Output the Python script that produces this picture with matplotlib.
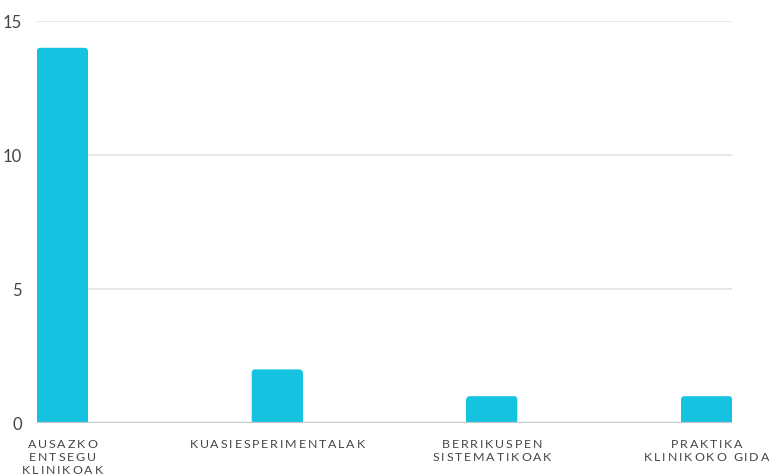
import matplotlib.pyplot as plt
from matplotlib.patches import FancyBboxPatch
from matplotlib.font_manager import FontProperties

# Datuak
kategoriak = [
    ["AUSAZKO", "ENTSEGU", "KLINIKOAK"],
    ["KUASIESPERIMENTALAK"],
    ["BERRIKUSPEN", "SISTEMATIKOAK"],
    ["PRAKTIKA", "KLINIKOKO GIDA"],
]
balioak = [14, 2, 1, 1]
y_tickak = [0, 5, 10, 15]

KOLOREA = "#15c3e1"
TESTUA = "#444444"
ZABALERA = 0.237
W, H = 772, 475


def marraztu_barrak(ax, balioak):
    """ Barrak goiko ertzak biribilduta marrazten ditu """
    ry = 0.11  # biribiltze-erradioa y unitateetan
    aspect = ry / 0.014
    x = list(range(len(balioak)))
    ax.bar(x, [v - ry for v in balioak], width=ZABALERA, color=KOLOREA, zorder=3)
    for i, v in zip(x, balioak):
        p = FancyBboxPatch((i - ZABALERA / 2, 0), ZABALERA, v,
                           boxstyle="round,pad=0,rounding_size=0.014",
                           mutation_aspect=aspect, facecolor=KOLOREA,
                           edgecolor="none", zorder=3)
        ax.add_patch(p)


def etiketa_tartekatua(fig, renderer, xc, y_goi, lerroak, fp, tartea=1.9, lerro_altuera=13.2):
    """ Letren arteko tartea duten etiketak, letraz letra """
    def ancho(s):
        w, _, _ = renderer.get_text_width_height_descent(s, fp, ismath=False)
        return w
    oin = ancho("I")
    for k, lerroa in enumerate(lerroak):
        n = len(lerroa)
        guztira = ancho(lerroa) + (n - 1) * tartea
        x0 = xc - guztira / 2
        y = y_goi + k * lerro_altuera
        for i, ch in enumerate(lerroa):
            if ch == " ":
                continue
            dx = (ancho(lerroa[:i] + "I") - oin if i > 0 else 0) + i * tartea
            fig.text((x0 + dx) / W, 1 - y / H, ch, fontproperties=fp,
                     color=TESTUA, ha="left", va="baseline")


fig = plt.figure(figsize=(W / 100, H / 100), dpi=100)
ax = fig.add_axes([37 / W, 52 / H, (732 - 37) / W, (423 - 21) / H])

marraztu_barrak(ax, balioak)

ax.set_xlim(-ZABALERA / 2, len(balioak) - 1 + ZABALERA / 2)
ax.set_ylim(0, 15)
ax.set_yticks(y_tickak)
ax.set_xticks([])
for t in y_tickak[1:]:
    ax.axhline(t, color="#e3e3e3", linewidth=1.2, zorder=1)
ax.axhline(0, color="#c4c6c8", linewidth=1.6, zorder=4)
for s in ax.spines.values():
    s.set_visible(False)
ax.tick_params(axis="y", length=0, pad=11, labelsize=12, labelcolor=TESTUA)
for lbl in ax.get_yticklabels():
    lbl.set_fontfamily("Lato")
ax.patch.set_alpha(0)

# X ardatzeko etiketak
fig.canvas.draw()
renderer = fig.canvas.get_renderer()
fp = FontProperties(family="Lato", size=8.9)
for i, lerroak in enumerate(kategoriak):
    xc, _ = ax.transData.transform((i, 0))
    etiketa_tartekatua(fig, renderer, xc, 447.5, lerroak, fp)

fig.savefig("out.png", dpi=100)
